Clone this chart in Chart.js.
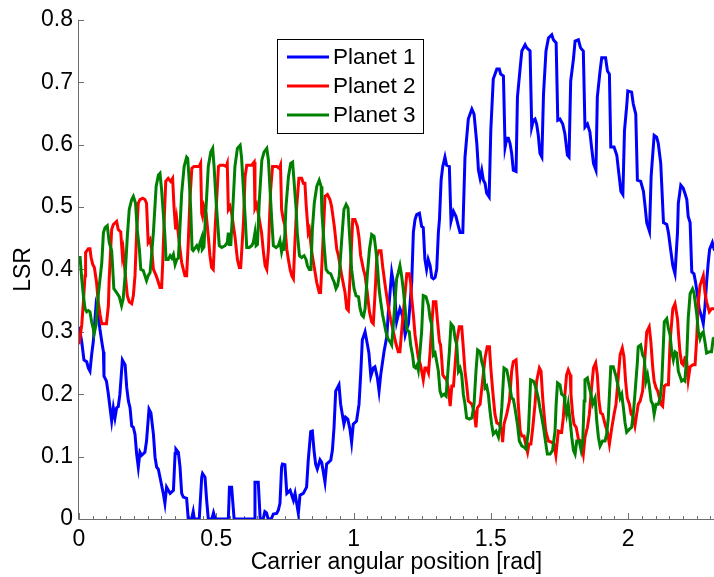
<!DOCTYPE html>
<html>
<head>
<meta charset="utf-8">
<script src="https://cdn.jsdelivr.net/npm/chart.js@4/dist/chart.umd.min.js"></script>
<style>
  html, body { margin: 0; padding: 0; background: #ffffff; }
  #wrap { width: 714px; height: 577px; }
</style>
</head>
<body>
<div id="wrap"><canvas id="lsr" width="714" height="577"></canvas></div>
<script>
// Load sharing ratio of each planet against carrier angle
const seriesNames = ['Planet 1', 'Planet 2', 'Planet 3'];
const seriesColors = ['#0000ff', '#ff0000', '#008000'];

const planet1X = [0.000,0.010,0.018,0.028,0.034,0.040,0.046,0.052,0.062,0.070,0.076,0.083,0.089,0.091,0.100,0.107,0.113,0.119,0.125,0.131,0.137,0.143,0.149,0.158,0.168,0.174,0.180,0.186,0.192,0.198,0.204,0.210,0.216,0.222,0.228,0.240,0.246,0.255,0.262,0.271,0.277,0.283,0.289,0.295,0.307,0.313,0.319,0.332,0.344,0.350,0.353,0.362,0.368,0.374,0.380,0.392,0.398,0.410,0.416,0.420,0.438,0.447,0.450,0.459,0.465,0.471,0.484,0.490,0.496,0.544,0.548,0.556,0.565,0.638,0.641,0.653,0.660,0.671,0.677,0.683,0.689,0.700,0.708,0.720,0.726,0.732,0.738,0.741,0.750,0.757,0.769,0.781,0.787,0.799,0.805,0.817,0.829,0.835,0.844,0.850,0.856,0.862,0.868,0.878,0.884,0.896,0.902,0.917,0.923,0.929,0.935,0.947,0.953,0.959,0.965,0.971,0.979,0.987,0.993,0.999,1.011,1.020,1.026,1.032,1.042,1.050,1.056,1.063,1.072,1.078,1.087,1.093,1.099,1.111,1.121,1.127,1.133,1.139,1.145,1.151,1.157,1.163,1.169,1.175,1.181,1.188,1.194,1.200,1.206,1.212,1.218,1.224,1.230,1.240,1.248,1.254,1.260,1.266,1.272,1.279,1.285,1.291,1.297,1.303,1.309,1.313,1.319,1.325,1.333,1.339,1.349,1.355,1.364,1.373,1.382,1.388,1.398,1.406,1.418,1.431,1.439,1.449,1.455,1.461,1.467,1.473,1.479,1.485,1.494,1.500,1.509,1.522,1.531,1.536,1.546,1.552,1.558,1.564,1.570,1.576,1.582,1.592,1.597,1.607,1.613,1.625,1.631,1.643,1.649,1.655,1.661,1.667,1.673,1.679,1.686,1.692,1.701,1.710,1.722,1.728,1.738,1.744,1.752,1.762,1.770,1.779,1.785,1.791,1.801,1.807,1.819,1.827,1.837,1.843,1.852,1.861,1.867,1.874,1.883,1.888,1.898,1.904,1.918,1.925,1.932,1.937,1.949,1.959,1.965,1.974,1.981,1.987,1.995,1.999,2.013,2.019,2.028,2.034,2.046,2.056,2.062,2.068,2.078,2.084,2.095,2.104,2.110,2.119,2.129,2.141,2.147,2.155,2.163,2.171,2.180,2.183,2.192,2.201,2.207,2.214,2.219,2.226,2.232,2.240,2.246,2.253,2.259,2.268,2.274,2.280,2.286,2.292,2.297,2.307,2.315];
const planet1Y = [0.308,0.284,0.255,0.252,0.242,0.237,0.263,0.284,0.342,0.327,0.305,0.284,0.268,0.229,0.221,0.200,0.178,0.157,0.178,0.162,0.178,0.180,0.200,0.255,0.247,0.210,0.189,0.178,0.149,0.147,0.136,0.104,0.083,0.107,0.102,0.107,0.125,0.176,0.170,0.136,0.099,0.083,0.080,0.067,0.041,0.025,0.051,0.041,0.046,0.105,0.112,0.107,0.083,0.041,0.035,0.033,0.000,0.000,0.012,0.000,0.000,0.067,0.073,0.067,0.030,0.000,0.000,0.010,0.000,0.000,0.051,0.051,0.000,0.000,0.059,0.059,0.000,0.000,0.012,0.010,0.000,0.000,0.008,0.009,0.014,0.025,0.083,0.088,0.087,0.041,0.046,0.030,0.041,0.009,0.038,0.041,0.051,0.094,0.140,0.141,0.110,0.088,0.080,0.095,0.091,0.059,0.088,0.094,0.110,0.147,0.205,0.215,0.184,0.168,0.152,0.163,0.160,0.144,0.123,0.152,0.157,0.184,0.231,0.287,0.300,0.281,0.266,0.229,0.242,0.244,0.226,0.205,0.231,0.268,0.292,0.332,0.363,0.395,0.379,0.353,0.316,0.327,0.337,0.330,0.321,0.295,0.305,0.313,0.345,0.380,0.460,0.480,0.488,0.490,0.469,0.467,0.416,0.400,0.416,0.406,0.387,0.385,0.387,0.400,0.459,0.480,0.543,0.565,0.580,0.567,0.565,0.477,0.493,0.485,0.469,0.459,0.459,0.580,0.641,0.657,0.649,0.602,0.559,0.546,0.559,0.543,0.538,0.522,0.516,0.623,0.705,0.721,0.721,0.713,0.710,0.596,0.610,0.610,0.602,0.586,0.559,0.557,0.676,0.723,0.750,0.760,0.755,0.750,0.628,0.639,0.641,0.633,0.615,0.586,0.580,0.681,0.750,0.771,0.776,0.768,0.763,0.639,0.641,0.633,0.617,0.583,0.580,0.702,0.737,0.766,0.768,0.755,0.750,0.628,0.633,0.620,0.596,0.570,0.559,0.676,0.718,0.739,0.739,0.718,0.713,0.596,0.596,0.583,0.559,0.525,0.520,0.623,0.662,0.686,0.684,0.665,0.649,0.543,0.541,0.525,0.501,0.475,0.461,0.549,0.615,0.612,0.602,0.570,0.475,0.472,0.459,0.432,0.406,0.393,0.459,0.506,0.535,0.530,0.522,0.512,0.485,0.475,0.396,0.393,0.379,0.358,0.337,0.324,0.313,0.340,0.379,0.411,0.432,0.443,0.430];

const planet2X = [0.000,0.010,0.016,0.022,0.024,0.034,0.040,0.044,0.050,0.056,0.064,0.070,0.077,0.083,0.100,0.107,0.110,0.119,0.125,0.137,0.143,0.152,0.158,0.161,0.168,0.176,0.183,0.192,0.198,0.204,0.210,0.216,0.222,0.232,0.240,0.246,0.252,0.259,0.265,0.271,0.281,0.285,0.295,0.301,0.305,0.310,0.316,0.325,0.334,0.341,0.346,0.352,0.356,0.368,0.374,0.380,0.386,0.392,0.398,0.404,0.411,0.419,0.429,0.438,0.443,0.447,0.450,0.455,0.463,0.471,0.477,0.483,0.489,0.495,0.508,0.514,0.526,0.536,0.540,0.544,0.550,0.556,0.568,0.577,0.584,0.589,0.599,0.605,0.611,0.629,0.638,0.641,0.647,0.653,0.665,0.672,0.678,0.684,0.690,0.698,0.705,0.720,0.730,0.734,0.738,0.744,0.750,0.757,0.763,0.769,0.775,0.781,0.787,0.793,0.801,0.811,0.817,0.823,0.827,0.835,0.839,0.848,0.854,0.866,0.875,0.880,0.888,0.896,0.905,0.914,0.920,0.930,0.939,0.945,0.957,0.969,0.975,0.981,0.987,0.997,1.005,1.014,1.020,1.026,1.036,1.042,1.050,1.058,1.066,1.072,1.078,1.085,1.092,1.100,1.106,1.115,1.125,1.135,1.145,1.155,1.163,1.169,1.175,1.188,1.194,1.203,1.208,1.212,1.218,1.224,1.236,1.244,1.248,1.254,1.260,1.266,1.273,1.279,1.285,1.291,1.300,1.305,1.313,1.317,1.321,1.325,1.333,1.339,1.345,1.352,1.358,1.364,1.370,1.376,1.385,1.394,1.400,1.406,1.412,1.418,1.431,1.439,1.446,1.451,1.461,1.470,1.479,1.487,1.495,1.500,1.507,1.515,1.522,1.531,1.540,1.543,1.548,1.558,1.568,1.576,1.582,1.592,1.597,1.600,1.607,1.613,1.621,1.627,1.634,1.639,1.646,1.653,1.661,1.667,1.677,1.683,1.689,1.694,1.700,1.710,1.722,1.730,1.737,1.746,1.758,1.764,1.770,1.776,1.782,1.789,1.792,1.798,1.803,1.811,1.819,1.828,1.837,1.843,1.852,1.859,1.867,1.874,1.882,1.888,1.894,1.900,1.907,1.916,1.925,1.932,1.941,1.949,1.956,1.965,1.971,1.979,1.985,1.991,1.997,2.005,2.011,2.017,2.025,2.032,2.037,2.044,2.053,2.062,2.068,2.077,2.083,2.090,2.095,2.102,2.108,2.120,2.126,2.132,2.138,2.147,2.153,2.163,2.171,2.180,2.184,2.189,2.195,2.201,2.207,2.213,2.219,2.226,2.236,2.244,2.250,2.256,2.262,2.268,2.274,2.280,2.286,2.296,2.304,2.315];
const planet2Y = [0.280,0.311,0.348,0.390,0.427,0.433,0.433,0.419,0.408,0.403,0.379,0.348,0.327,0.313,0.313,0.342,0.385,0.464,0.472,0.477,0.464,0.460,0.422,0.430,0.395,0.358,0.348,0.345,0.358,0.390,0.459,0.506,0.512,0.514,0.512,0.506,0.443,0.448,0.432,0.400,0.390,0.385,0.371,0.371,0.411,0.475,0.541,0.546,0.541,0.546,0.501,0.464,0.480,0.432,0.411,0.400,0.390,0.390,0.443,0.512,0.562,0.565,0.565,0.565,0.570,0.490,0.485,0.501,0.490,0.453,0.422,0.403,0.400,0.459,0.565,0.567,0.567,0.565,0.570,0.496,0.501,0.490,0.453,0.416,0.403,0.403,0.475,0.549,0.567,0.567,0.572,0.498,0.504,0.490,0.459,0.427,0.406,0.400,0.432,0.527,0.565,0.565,0.562,0.567,0.496,0.480,0.470,0.432,0.415,0.400,0.390,0.385,0.448,0.501,0.546,0.546,0.538,0.538,0.506,0.459,0.464,0.427,0.411,0.379,0.363,0.363,0.438,0.517,0.520,0.512,0.501,0.469,0.432,0.422,0.390,0.363,0.337,0.334,0.385,0.480,0.480,0.469,0.451,0.422,0.400,0.390,0.363,0.332,0.316,0.313,0.358,0.420,0.430,0.430,0.405,0.375,0.345,0.320,0.300,0.280,0.268,0.268,0.300,0.363,0.393,0.393,0.379,0.353,0.327,0.295,0.258,0.247,0.237,0.223,0.242,0.242,0.234,0.268,0.311,0.348,0.348,0.321,0.284,0.279,0.258,0.231,0.226,0.223,0.210,0.181,0.213,0.213,0.247,0.284,0.308,0.308,0.274,0.237,0.215,0.189,0.184,0.173,0.147,0.178,0.184,0.221,0.258,0.276,0.276,0.242,0.205,0.168,0.154,0.152,0.141,0.123,0.152,0.168,0.189,0.237,0.252,0.255,0.221,0.184,0.141,0.133,0.133,0.120,0.107,0.120,0.120,0.147,0.184,0.221,0.242,0.237,0.194,0.168,0.141,0.125,0.123,0.120,0.102,0.141,0.139,0.162,0.200,0.231,0.239,0.231,0.200,0.168,0.152,0.147,0.128,0.125,0.104,0.131,0.147,0.168,0.210,0.242,0.250,0.231,0.189,0.170,0.168,0.152,0.139,0.120,0.147,0.168,0.184,0.231,0.263,0.274,0.260,0.221,0.194,0.184,0.168,0.165,0.149,0.170,0.184,0.189,0.205,0.263,0.300,0.308,0.284,0.242,0.221,0.210,0.205,0.184,0.181,0.213,0.215,0.215,0.284,0.337,0.345,0.321,0.295,0.268,0.250,0.247,0.258,0.256,0.223,0.244,0.247,0.247,0.289,0.348,0.374,0.382,0.390,0.363,0.348,0.332,0.337,0.337];

const planet3X = [0.000,0.004,0.010,0.016,0.022,0.028,0.034,0.040,0.046,0.052,0.055,0.062,0.070,0.083,0.089,0.095,0.103,0.110,0.119,0.123,0.127,0.137,0.147,0.155,0.161,0.168,0.176,0.183,0.192,0.198,0.206,0.212,0.220,0.225,0.234,0.240,0.246,0.252,0.259,0.271,0.281,0.289,0.295,0.301,0.307,0.313,0.317,0.325,0.332,0.338,0.344,0.350,0.356,0.362,0.368,0.374,0.383,0.392,0.396,0.402,0.407,0.412,0.416,0.429,0.435,0.441,0.447,0.449,0.455,0.463,0.471,0.480,0.487,0.492,0.499,0.505,0.511,0.520,0.532,0.540,0.544,0.547,0.553,0.560,0.568,0.577,0.587,0.592,0.599,0.605,0.611,0.620,0.629,0.635,0.641,0.645,0.650,0.657,0.666,0.674,0.684,0.690,0.696,0.702,0.708,0.718,0.726,0.732,0.738,0.744,0.747,0.754,0.763,0.771,0.778,0.783,0.791,0.795,0.803,0.811,0.820,0.827,0.832,0.839,0.845,0.850,0.857,0.866,0.875,0.882,0.885,0.893,0.900,0.908,0.917,0.924,0.930,0.936,0.942,0.948,0.957,0.965,0.973,0.980,0.985,0.993,1.002,1.009,1.018,1.024,1.030,1.036,1.042,1.050,1.058,1.066,1.075,1.081,1.087,1.093,1.099,1.106,1.111,1.118,1.125,1.133,1.139,1.145,1.151,1.157,1.163,1.169,1.175,1.181,1.188,1.194,1.203,1.208,1.215,1.220,1.226,1.232,1.236,1.242,1.248,1.254,1.264,1.273,1.279,1.285,1.291,1.297,1.303,1.309,1.315,1.321,1.330,1.337,1.342,1.349,1.355,1.364,1.370,1.376,1.382,1.388,1.394,1.400,1.406,1.412,1.422,1.431,1.439,1.446,1.452,1.461,1.467,1.473,1.479,1.485,1.491,1.497,1.503,1.509,1.519,1.528,1.534,1.540,1.548,1.558,1.564,1.570,1.576,1.582,1.588,1.597,1.604,1.613,1.621,1.628,1.637,1.645,1.655,1.661,1.667,1.673,1.679,1.686,1.692,1.698,1.706,1.716,1.725,1.734,1.738,1.743,1.752,1.758,1.767,1.770,1.776,1.782,1.789,1.795,1.801,1.807,1.813,1.822,1.829,1.835,1.840,1.843,1.852,1.859,1.864,1.871,1.880,1.886,1.892,1.898,1.907,1.916,1.922,1.928,1.937,1.946,1.956,1.965,1.971,1.977,1.983,1.989,1.995,2.005,2.013,2.019,2.025,2.034,2.037,2.046,2.053,2.059,2.065,2.071,2.077,2.084,2.090,2.095,2.102,2.110,2.117,2.123,2.132,2.141,2.147,2.153,2.159,2.165,2.171,2.177,2.183,2.189,2.195,2.201,2.207,2.214,2.219,2.226,2.235,2.240,2.250,2.256,2.262,2.268,2.274,2.280,2.286,2.296,2.304,2.310,2.315];
const planet3Y = [0.419,0.419,0.385,0.358,0.337,0.332,0.334,0.332,0.316,0.305,0.297,0.311,0.358,0.411,0.459,0.467,0.470,0.443,0.430,0.400,0.369,0.363,0.356,0.342,0.353,0.390,0.453,0.496,0.512,0.517,0.506,0.464,0.432,0.400,0.398,0.390,0.382,0.390,0.395,0.459,0.533,0.551,0.554,0.527,0.490,0.453,0.416,0.416,0.422,0.418,0.424,0.408,0.416,0.418,0.469,0.522,0.565,0.580,0.578,0.538,0.496,0.432,0.430,0.438,0.432,0.443,0.451,0.432,0.436,0.501,0.565,0.588,0.594,0.565,0.512,0.475,0.438,0.435,0.438,0.443,0.459,0.440,0.440,0.496,0.565,0.594,0.599,0.580,0.527,0.485,0.435,0.435,0.438,0.443,0.459,0.438,0.440,0.512,0.575,0.588,0.594,0.575,0.527,0.480,0.438,0.435,0.438,0.446,0.428,0.440,0.430,0.501,0.549,0.570,0.572,0.543,0.496,0.459,0.422,0.419,0.422,0.416,0.406,0.400,0.400,0.464,0.506,0.533,0.543,0.533,0.490,0.438,0.400,0.395,0.393,0.385,0.379,0.369,0.374,0.390,0.448,0.496,0.504,0.498,0.459,0.400,0.369,0.358,0.356,0.337,0.327,0.324,0.337,0.390,0.432,0.456,0.453,0.432,0.406,0.369,0.348,0.327,0.316,0.300,0.289,0.284,0.279,0.311,0.348,0.385,0.395,0.406,0.390,0.369,0.337,0.303,0.300,0.279,0.263,0.244,0.242,0.247,0.239,0.268,0.300,0.358,0.356,0.342,0.321,0.311,0.263,0.266,0.252,0.237,0.205,0.197,0.200,0.197,0.226,0.268,0.313,0.308,0.289,0.279,0.237,0.242,0.231,0.200,0.184,0.162,0.160,0.162,0.184,0.237,0.271,0.268,0.252,0.242,0.210,0.213,0.200,0.173,0.152,0.136,0.141,0.131,0.147,0.178,0.242,0.239,0.226,0.210,0.194,0.192,0.178,0.152,0.125,0.117,0.115,0.112,0.141,0.223,0.221,0.215,0.205,0.194,0.178,0.162,0.147,0.128,0.104,0.104,0.110,0.141,0.184,0.218,0.215,0.200,0.197,0.184,0.168,0.184,0.157,0.131,0.110,0.104,0.125,0.125,0.110,0.125,0.189,0.223,0.226,0.210,0.202,0.184,0.194,0.157,0.131,0.117,0.125,0.125,0.136,0.162,0.244,0.244,0.229,0.210,0.194,0.200,0.178,0.154,0.139,0.144,0.147,0.168,0.200,0.252,0.276,0.279,0.263,0.258,0.221,0.231,0.215,0.189,0.184,0.168,0.184,0.184,0.194,0.221,0.316,0.321,0.305,0.295,0.268,0.255,0.268,0.266,0.237,0.229,0.221,0.223,0.221,0.263,0.321,0.361,0.369,0.363,0.329,0.300,0.289,0.297,0.300,0.284,0.266,0.268,0.268,0.289,0.290];

// Axis ticks
const xTickValues = [0, 0.5, 1, 1.5, 2];
const yTickValues = [0, 0.1, 0.2, 0.3, 0.4, 0.5, 0.6, 0.7, 0.8];
const xMinorStep = 0.05;
const xRange = [0, 2.313];
const yRange = [0, 0.8];

const FONT = '"Liberation Sans", Arial, Helvetica, sans-serif';
const FONT_SIZE = 23;
const AXIS_COLOR = '#6e6e6e';

function toPoints(xs, ys) {
  return xs.map((x, i) => ({ x: x, y: ys[i] }));
}

function tickText(v) {
  return String(Math.round(v * 100) / 100);
}

// Axis lines with inward tick marks, drawn under the curves
const axisFrame = {
  id: 'axisFrame',
  beforeDatasetsDraw(chart) {
    const { ctx, chartArea: a, scales } = chart;
    const xs = scales.x, ys = scales.y;
    ctx.save();
    ctx.strokeStyle = AXIS_COLOR;
    ctx.lineWidth = 1;
    ctx.beginPath();
    ctx.moveTo(a.left - 0.5, a.top);
    ctx.lineTo(a.left - 0.5, a.bottom + 0.5);
    ctx.lineTo(a.right, a.bottom + 0.5);
    ctx.stroke();
    ctx.beginPath();
    const n = Math.floor((xs.max - xs.min) / xMinorStep + 1e-9);
    for (let i = 0; i <= n; i++) {
      const v = xs.min + i * xMinorStep;
      const major = xTickValues.some(t => Math.abs(t - v) < 1e-6);
      const px = Math.round(xs.getPixelForValue(v)) + 0.5;
      ctx.moveTo(px, a.bottom);
      ctx.lineTo(px, a.bottom - (major ? 6 : 3));
    }
    yTickValues.forEach(v => {
      const py = Math.round(ys.getPixelForValue(v)) + 0.5;
      ctx.moveTo(a.left, py);
      ctx.lineTo(a.left + 5, py);
    });
    ctx.stroke();
    ctx.restore();
  }
};

// Boxed legend in the upper middle of the plot
const boxLegend = {
  id: 'boxLegend',
  afterDraw(chart) {
    const { ctx } = chart;
    const box = { x: 277.5, y: 39.5, w: 146, h: 94 };
    ctx.save();
    ctx.fillStyle = '#ffffff';
    ctx.fillRect(box.x, box.y, box.w, box.h);
    ctx.strokeStyle = '#000000';
    ctx.lineWidth = 1;
    ctx.strokeRect(box.x, box.y, box.w, box.h);
    ctx.font = '22.5px ' + FONT;
    ctx.textBaseline = 'middle';
    ctx.textAlign = 'left';
    chart.data.datasets.forEach((ds, i) => {
      const cy = 57 + i * 29;
      ctx.strokeStyle = ds.borderColor;
      ctx.lineWidth = ds.borderWidth;
      ctx.beginPath();
      ctx.moveTo(287, cy);
      ctx.lineTo(329, cy);
      ctx.stroke();
      ctx.fillStyle = '#000000';
      ctx.fillText(ds.label, 333, cy + 1);
    });
    ctx.restore();
  }
};

const planetX = [planet1X, planet2X, planet3X];
const planetY = [planet1Y, planet2Y, planet3Y];

new Chart(document.getElementById('lsr'), {
  type: 'line',
  data: {
    datasets: seriesNames.map((name, i) => ({
      label: name,
      data: toPoints(planetX[i], planetY[i]),
      borderColor: seriesColors[i],
      backgroundColor: seriesColors[i],
      borderWidth: 3,
      pointRadius: 0,
      tension: 0,
      fill: false,
      order: 3 - i
    }))
  },
  options: {
    responsive: false,
    animation: false,
    devicePixelRatio: 1,
    events: [],
    layout: { padding: { top: 15, right: 0, bottom: 0, left: 0 }, autoPadding: false },
    plugins: { legend: { display: false }, tooltip: { enabled: false } },
    scales: {
      x: {
        type: 'linear',
        min: xRange[0],
        max: xRange[1],
        afterBuildTicks: s => { s.ticks = xTickValues.map(v => ({ value: v })); },
        afterFit: s => { s.height = 58; },
        grid: { display: false, drawTicks: false },
        border: { display: false },
        ticks: { color: '#000000', padding: 7, maxRotation: 0, autoSkip: false, callback: tickText, font: { family: FONT, size: FONT_SIZE } },
        title: { display: true, text: 'Carrier angular position [rad]', color: '#000000', padding: { top: 0, bottom: 1 }, font: { family: FONT, size: FONT_SIZE } }
      },
      y: {
        type: 'linear',
        min: yRange[0],
        max: yRange[1],
        afterBuildTicks: s => { s.ticks = yTickValues.map(v => ({ value: v })); },
        afterFit: s => { s.width = 79; },
        grid: { display: false, drawTicks: false },
        border: { display: false },
        ticks: { color: '#000000', padding: 6, autoSkip: false, callback: tickText, font: { family: FONT, size: FONT_SIZE } },
        title: { display: true, text: 'LSR', color: '#000000', padding: { top: 10, bottom: 0 }, font: { family: FONT, size: FONT_SIZE } }
      }
    }
  },
  plugins: [axisFrame, boxLegend]
});
</script>
</body>
</html>
